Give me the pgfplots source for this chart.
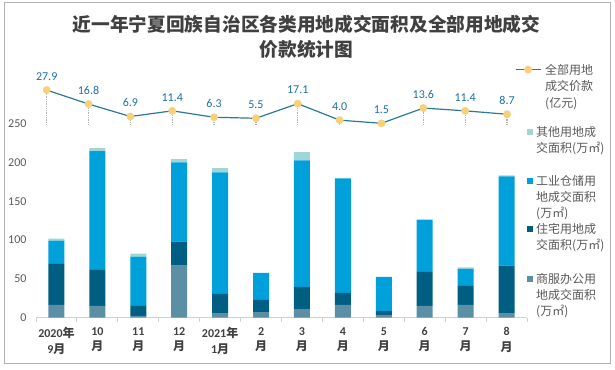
\documentclass[border=0pt]{standalone}
\usepackage{pgfplots}
\pgfplotsset{compat=1.18}
\usepackage{pgfplotstable}
\usepackage{fontspec}
\setmainfont{Carlito}
\newfontfamily\cjk{Noto Sans CJK SC}
\definecolor{cComm}{HTML}{5B8FA6}
\definecolor{cRes}{HTML}{005E82}
\definecolor{cInd}{HTML}{00A0DA}
\definecolor{cOth}{HTML}{A0D7D5}
\definecolor{cLine}{HTML}{2A7A96}
\definecolor{cMark}{HTML}{F5D17A}
\definecolor{cLab}{HTML}{1A6FA8}
\definecolor{txt}{HTML}{595959}
\definecolor{dark}{HTML}{404040}

\pgfplotstableread{
x comm res ind oth
0 16.4 53.1 29.9 2.5
1 15.1 46.7 152.9 3.9
2 2.2 12.9 63.5 3.9
3 67.0 31.0 102.4 3.9
4 6.0 24.7 156.8 5.2
5 7.3 15.6 35.0 0
6 11.2 28.5 163.3 10.4
7 16.4 15.6 147.7 0
8 3.5 5.1 44.1 0
9 15.1 44.1 67.4 0
10 16.4 24.6 22.0 1.8
11 6.0 61.0 115.3 1.3
}\bars

\pgfplotstableread{
x v
0 27.9
1 16.8
2 6.9
3 11.4
4 6.3
5 5.5
6 17.1
7 4.0
8 1.5
9 13.6
10 11.4
11 8.7
}\price

\begin{document}
\begin{tikzpicture}[x=1bp,y=1bp]
\path[use as bounding box] (0,0) rectangle (615,369);
\draw[color=black!30, line width=1bp] (4.7,5.7) rectangle (610,366.5);

\node[font=\cjk\bfseries\fontsize{18.7bp}{24.5bp}\selectfont, text=dark, align=center, inner sep=0pt] at (306.5,332.2)
 {近一年宁夏回族自治区各类用地成交面积及全部用地成交\\价款统计图};

\begin{axis}[
  scale only axis, width=491bp, height=193.9bp,
  at={(36bp,51.3bp)}, anchor=south west,
  ybar stacked, bar width=16bp,
  xmin=-0.5, xmax=11.5, ymin=0, ymax=250,
  axis x line*=bottom, axis y line*=left,
  y axis line style={draw=none},
  x axis line style={draw=black!18, line width=0.9bp},
  xtick={0,...,11},
  minor xtick={-0.5,0.5,...,11.5},
  major tick length=0pt, minor tick length=4bp,
  tick align=outside,
  minor tick style={draw=black!18, line width=0.9bp},
  ytick={0,50,...,250},
  yticklabel style={font=\fontsize{12bp}{14bp}\selectfont, text=txt, xshift=-6bp},
  xticklabels={{2020{\cjk 年}\\9{\cjk 月}},{10\\{\cjk 月}},{11\\{\cjk 月}},{12\\{\cjk 月}},{2021{\cjk 年}\\1{\cjk 月}},{2\\{\cjk 月}},{3\\{\cjk 月}},{4\\{\cjk 月}},{5\\{\cjk 月}},{6\\{\cjk 月}},{7\\{\cjk 月}},{8\\{\cjk 月}}},
  xticklabel style={font=\bfseries\fontsize{12bp}{15.5bp}\selectfont, text=dark, align=center, yshift=-6bp},
  /pgf/number format/assume math mode=true,
  clip=false,
  legend style={draw=none, fill=none, inner sep=0pt, outer sep=0pt,
    at={(0.9994,0.989)}, anchor=north west, row sep=0pt, column sep=3.5bp,
    cells={anchor=base west}, nodes={inner sep=0pt, text depth=, text=txt, font=\cjk\fontsize{12bp}{16bp}\selectfont}},
  legend image code/.code={\fill[#1,draw=none] (0bp,1.5bp) rectangle (6bp,7.5bp);},
  reverse legend,
]
\addplot[fill=cComm, draw=none] table[x=x,y=comm]{\bars};
\addlegendentry{\parbox[t]{70bp}{商服办公用\\地成交面积\\(万㎡)}}
\addplot[fill=cRes, draw=none] table[x=x,y=res]{\bars};
\addlegendentry{\parbox[t]{70bp}{住宅用地成\\交面积(万㎡)\rule[-24.4bp]{0pt}{0pt}}}
\addplot[fill=cInd, draw=none] table[x=x,y=ind]{\bars};
\addlegendentry{\parbox[t]{70bp}{工业仓储用\\地成交面积\\(万㎡)\rule[-5.4bp]{0pt}{0pt}}}
\addplot[fill=cOth, draw=none] table[x=x,y=oth]{\bars};
\addlegendentry{\parbox[t]{70bp}{其他用地成\\交面积(万㎡)\rule[-23.4bp]{0pt}{0pt}}}
\end{axis}

\begin{axis}[
  scale only axis, width=460.3bp, height=37.8bp,
  at={(46.7bp,243.8bp)}, anchor=south west,
  xmin=0, xmax=11, ymin=0, ymax=30,
  hide axis, clip=false,
  /pgf/number format/.cd, fixed, fixed zerofill, precision=1, assume math mode=true,
  /pgfplots/.cd,
  legend style={draw=none, fill=none, inner sep=0pt, outer sep=0pt,
    at={(1.0174,1.622)}, anchor=north west, column sep=4bp,
    cells={anchor=base west}, nodes={inner sep=0pt, text depth=, text=txt, font=\cjk\fontsize{12bp}{16.5bp}\selectfont}},
  legend image code/.code={\draw[#1, mark=none] (0bp,4.5bp) -- (25bp,4.5bp);
     \draw[#1, only marks] plot coordinates {(12.5bp,4.5bp)};},
]
\addplot[ycomb, draw=black!30, densely dotted, line width=1.3bp, mark=none, forget plot] table[x=x,y=v]{\price};
\addplot[color=cLine, line width=1.2bp, mark=*, mark size=3.3bp,
  mark options={fill=cMark, draw=cMark},
  nodes near coords,
  every node near coord/.append style={font=\fontsize{12bp}{14bp}\selectfont, text=cLab, anchor=south, yshift=9bp, inner sep=0pt}]
  table[x=x,y=v]{\price};
\addlegendentry{\parbox[t]{60bp}{全部用地\\成交价款\\(亿元)}}
\end{axis}
\end{tikzpicture}
\end{document}
